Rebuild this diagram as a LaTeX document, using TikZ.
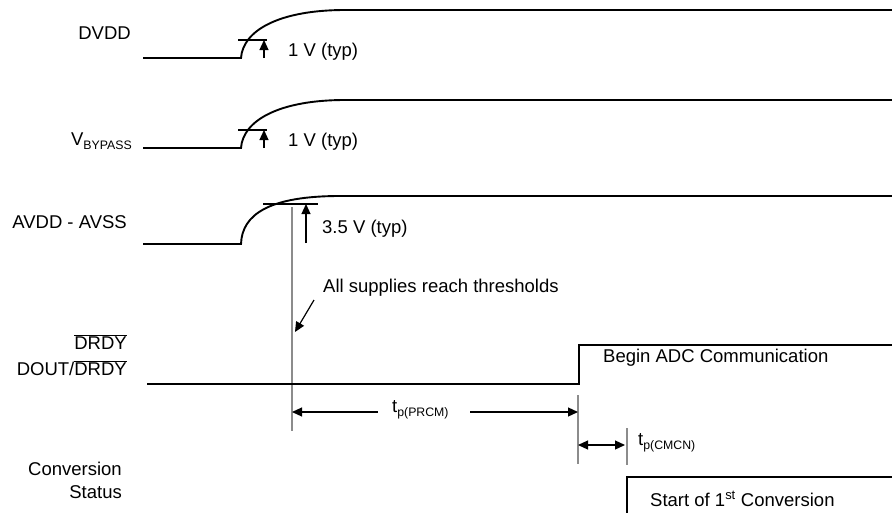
\documentclass[tikz,border=0pt]{standalone}
\usepackage{fontspec}
\setmainfont{Liberation Sans}
\usetikzlibrary{arrows.meta}
\newcommand\lowsub[1]{\raisebox{-4pt}{\fontsize{12.3}{14}\selectfont #1}}
\newcommand\ovbar[1]{\ensuremath{\overline{\hbox{#1}}}}
\begin{document}
\begin{tikzpicture}[x=1pt,y=-1pt,
  sig/.style={line width=1.9pt,black},
  guide/.style={line width=1.4pt,gray!90},
  thin/.style={line width=1.2pt,black},
  tip/.tip={Triangle[length=10pt,width=9pt]},
  arr/.style={thin,-tip},
  darr/.style={thin,tip-tip},
  lbl/.style={font=\fontsize{18.5}{21}\selectfont,inner sep=0pt},
  rlbl/.style={lbl,anchor=east}]
\useasboundingbox (0,0) rectangle (892,512);
% labels
\node[rlbl] (ldvdd) at (131,33) {DVDD};
\node[rlbl,anchor=base east] (lvbp) at (132,145) {V\lowsub{BYPASS}};
\node[rlbl] (lavdd) at (127,222) {AVDD - AVSS};
\node[rlbl] (ldrdy) at (127,342) {\ovbar{DRDY}};
\node[rlbl] (ldout) at (127,368) {DOUT/\ovbar{DRDY}};
\node[lbl,align=right,anchor=north east] (lconv) at (122,462) {Conversion\\[2pt]Status};
% DVDD
\draw[sig] (143,58) -- (241,58) .. controls (243,30) and (280,10) .. (345,10) -- (892,10);
\draw[thin] (238,40) -- (267,40);
\coordinate (d1b) at (264,58); \coordinate (d1t) at (264,40);
\draw[arr] (d1b) -- (d1t);
\node[lbl,anchor=west] (t1) at (288,52) {1 V (typ)};
% VBYPASS
\draw[sig] (143,148) -- (241,148) .. controls (243,120) and (280,100) .. (345,100) -- (892,100);
\draw[thin] (238,130) -- (267,130);
\coordinate (d2b) at (264,148); \coordinate (d2t) at (264,130);
\draw[arr] (d2b) -- (d2t);
\node[lbl,anchor=west] (t2) at (288,142) {1 V (typ)};
% AVDD
\draw[sig] (143,244) -- (241,244) .. controls (242,214) and (270,196) .. (340,196) -- (892,196);
\draw[thin] (263,204) -- (318,204);
\coordinate (d3b) at (306,243); \coordinate (d3t) at (306,204);
\draw[arr] (d3b) -- (d3t);
\node[lbl,anchor=west] (t3) at (322,229) {3.5 V (typ)};
% threshold guide
\coordinate (g1t) at (292,207); \coordinate (g1b) at (292,431);
\draw[guide] (g1t) -- (g1b);
\node[lbl,anchor=west] (tall) at (323,288) {All supplies reach thresholds};
\coordinate (aa) at (314,300); \coordinate (ab) at (295,332);
\draw[arr] (aa) -- (ab);
% DRDY
\draw[sig] (147,384) -- (579,384) -- (579,345) -- (892,345);
\node[lbl,anchor=west] (tbegin) at (603,358) {Begin ADC Communication};
\coordinate (g2t) at (578,395); \coordinate (g2b) at (578,464);
\draw[guide] (g2t) -- (g2b);
% tp(PRCM)
\coordinate (p1) at (292,412); \coordinate (p2) at (578,412);
\node[lbl,anchor=west] (tprcm) at (392,410) {t\lowsub{p(PRCM)}};
\draw[thin,tip-] (p1) -- (378,412);
\draw[thin,-tip] (470,412) -- (p2);
% tp(CMCN)
\coordinate (g3t) at (627,428); \coordinate (g3b) at (627,465);
\draw[guide] (g3t) -- (g3b);
\coordinate (c1) at (578,445); \coordinate (c2) at (625,445);
\draw[darr] (c1) -- (c2);
\node[lbl,anchor=west] (tcmcn) at (638,443) {t\lowsub{p(CMCN)}};
% Conversion status
\draw[sig] (627,513) -- (627,477) -- (892,477);
\node[lbl,anchor=west] (tstart) at (650,499) {Start of 1\textsuperscript{st} Conversion};
\end{tikzpicture}
\end{document}
